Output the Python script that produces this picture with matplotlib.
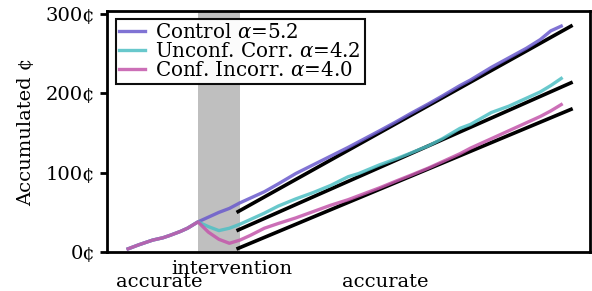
import numpy as np
import matplotlib
matplotlib.use("Agg")
from matplotlib import pyplot as plt

plt.rcParams['font.family'] = ['DejaVu Serif']
plt.rcParams['mathtext.fontset'] = 'dejavuserif'

# trial index
trials = [0, 3, 7, 10, 12, 15, 17, 20, 23, 26, 29, 32, 35, 39, 43, 48, 53, 58,
          63, 66, 72, 77, 81, 86, 90, 95, 98, 104, 109, 114, 118, 121, 124]

pre = [4, 9, 15, 18, 21, 26, 30, 38]

control = pre + [44, 50, 55, 62, 68, 76, 86, 99, 110, 121, 132, 139, 153, 165,
                 175, 187, 197, 210, 217, 233, 245, 257, 268, 279, 285]
unconf_corr = pre + [32, 27, 30, 35, 41, 49, 58, 67, 75, 84, 95, 99, 110, 118,
                     125, 134, 143, 156, 161, 176, 184, 194, 202, 210, 219]
conf_incorr = pre + [25, 16, 11, 15, 21, 30, 36, 43, 51, 59, 66, 71, 81, 90,
                     97, 106, 114, 124, 131, 143, 153, 163, 171, 178, 186]

labels = ["Control $\\alpha$=5.2", "Unconf. Corr. $\\alpha$=4.2",
          "Conf. Incorr. $\\alpha$=4.0"]
colors = ["#6a5acd", "#4ebfc4", "#c456ab"]

# linear fits on the post-intervention phase
fit_x = [31.5, 126.8]
fits = [[51, 285], [27.7, 213.5], [4.6, 180]]

intervention = (20, 32)
phase_ticks = [9, 29.7, 73.7]
phase_labels = ["accurate", "intervention", "accurate"]
phase_pads = [15, 5.5, 15]

fig = plt.figure(figsize=(5.92, 2.91), dpi=100)
ax = fig.add_axes([0.181, 0.134, 0.816, 0.828])

ax.axvspan(*intervention, color="#bfbfbf", lw=0, zorder=0)

for fy in fits:
    ax.plot(fit_x, fy, color="black", lw=2.6, zorder=2)

for ys, c, lab in zip([control, unconf_corr, conf_incorr], colors, labels):
    ax.plot(trials, ys, color=c, lw=2.4, alpha=0.85, label=lab, zorder=3)

ax.set_xlim(-6, 132.3)
ax.set_ylim(0, 304)
ax.set_yticks([0, 100, 200, 300])
ax.set_yticklabels(["0¢", "100¢", "200¢", "300¢"])
ax.set_xticks(phase_ticks)
ax.set_xticklabels(phase_labels)
ax.tick_params(axis="x", length=0, labelsize=14)
for t, p in zip(ax.xaxis.get_major_ticks(), phase_pads):
    t.set_pad(p)
ax.tick_params(axis="y", length=5, width=2, labelsize=14)
ax.set_ylabel("Accumulated ¢", fontsize=14, labelpad=8)

for s in ax.spines.values():
    s.set_linewidth(2)

leg = ax.legend(loc="upper left", fontsize=14.3, handlelength=1.3,
                handletextpad=0.5, labelspacing=0.0, borderpad=0.2,
                fancybox=False, framealpha=0.95, bbox_to_anchor=(0.005, 0.99),
                borderaxespad=0.3)
leg.get_frame().set_edgecolor("black")
leg.get_frame().set_linewidth(1.5)

fig.savefig("out.png", dpi=100)
